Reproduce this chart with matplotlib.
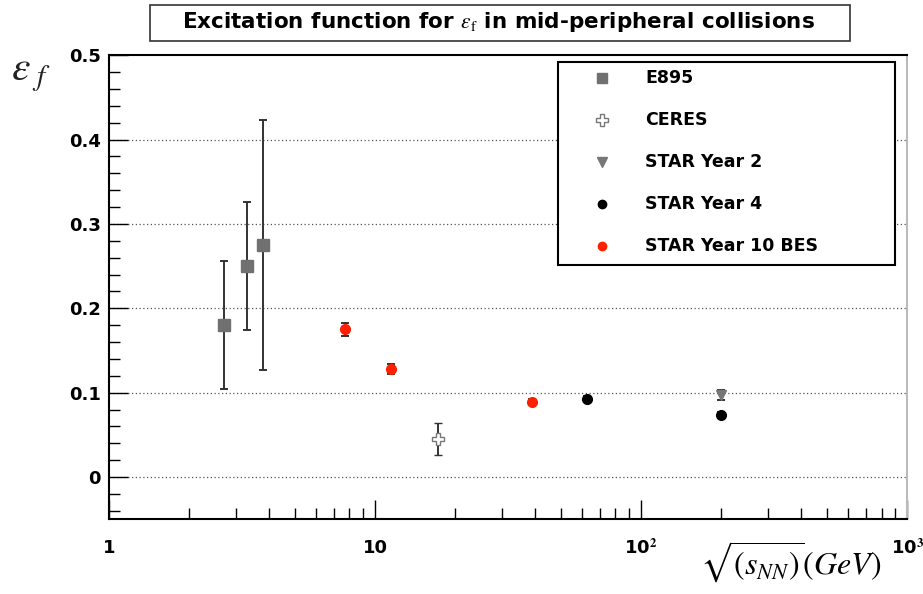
import matplotlib
matplotlib.use("Agg")
import matplotlib.pyplot as plt
from matplotlib.patches import Rectangle
from matplotlib.ticker import FixedLocator, FixedFormatter, MultipleLocator, LogLocator, NullFormatter

plt.rcParams['font.family'] = ['DejaVu Sans']
plt.rcParams['mathtext.fontset'] = 'stix'

# datos
e895_x = [2.7, 3.3, 3.8]
e895_y = [0.180, 0.250, 0.275]
e895_err = [0.076, 0.076, 0.148]

ceres_x = [17.3]
ceres_y = [0.045]
ceres_err = [0.019]

star2_x = [200]
star2_y = [0.097]
star2_err = [0.006]

star4_x = [62.4, 200]
star4_y = [0.093, 0.074]
star4_err = [0.003, 0.003]

bes_x = [7.7, 11.5, 39]
bes_y = [0.175, 0.128, 0.089]
bes_err = [0.008, 0.006, 0.003]

y_ticks = [0, 0.1, 0.2, 0.3, 0.4, 0.5]
y_labels = ['0', '0.1', '0.2', '0.3', '0.4', '0.5']
x_ticks = [1, 10, 100, 1000]
x_labels = ['1', '10', r'10$^{\mathbf{2}}$', r'10$^{\mathbf{3}}$']

fig = plt.figure(figsize=(9.23, 5.94), dpi=100)
ax = fig.add_axes([0.118, 0.126, 0.865, 0.781])

ax.set_xscale('log')
ax.set_xlim(1, 1000)
ax.set_ylim(-0.05, 0.5)

# rejilla punteada horizontal
for yv in y_ticks[:-1]:
    ax.axhline(yv, color='#555555', ls=(0, (1, 2)), lw=0.9, zorder=0)

kw = dict(ls='none', ecolor='#333333', elinewidth=1.4, capsize=3, capthick=1.4)
ax.errorbar(e895_x, e895_y, yerr=e895_err, marker='s', ms=8, color='#707070', **kw)
ax.errorbar(ceres_x, ceres_y, yerr=ceres_err, marker='P', ms=9, mfc='white', mec='#777777', mew=1, **kw)
ax.errorbar(star2_x, star2_y, yerr=star2_err, marker='v', ms=7, color='#777777', **kw)
ax.errorbar(star4_x, star4_y, yerr=star4_err, marker='o', ms=7, color='black', **kw)
ax.errorbar(bes_x, bes_y, yerr=bes_err, marker='o', ms=7, color='#ff2000', **kw)

ax.yaxis.set_major_locator(FixedLocator(y_ticks))
ax.yaxis.set_major_formatter(FixedFormatter(y_labels))
ax.yaxis.set_minor_locator(MultipleLocator(0.02))
ax.xaxis.set_major_locator(FixedLocator(x_ticks))
ax.xaxis.set_major_formatter(FixedFormatter(x_labels))
ax.xaxis.set_minor_locator(LogLocator(base=10, subs=range(2, 10)))
ax.xaxis.set_minor_formatter(NullFormatter())
ax.tick_params(which='both', direction='in', top=False, right=False, width=1)
ax.tick_params(which='major', length=14, labelsize=13)
ax.tick_params(axis='x', which='major', pad=14)
ax.tick_params(axis='y', which='major', pad=6)
ax.tick_params(which='minor', length=8)
for lab in ax.get_xticklabels() + ax.get_yticklabels():
    lab.set_fontweight('bold')

for s in ['left', 'bottom', 'top']:
    ax.spines[s].set_linewidth(1.5)
ax.spines['right'].set_color('#bbbbbb')
ax.spines['right'].set_linewidth(1.5)

# titulo en recuadro
fig.add_artist(Rectangle((150 / 923, 1 - 41 / 594), 700 / 923, 36 / 594, transform=fig.transFigure,
                         fc='white', ec='#333333', lw=1.2))
fig.text(0.54, 1 - 22 / 594, r'Excitation function for $\epsilon_{\rm f}$ in mid-peripheral collisions',
         ha='center', va='center', fontsize=15.5, fontweight='bold')

fig.text(0.012, 0.865, r'$\varepsilon_{\ f}$', fontsize=30, color='#222222')
fig.text(0.955, 0.015, r'$\sqrt{(s_{NN})}(GeV)$', fontsize=23, ha='right', va='bottom')

# leyenda manual
ax.add_patch(Rectangle((0.563, 0.547), 0.422, 0.438, transform=ax.transAxes,
                       fc='white', ec='black', lw=1.5, zorder=5))
handles = [
    dict(marker='s', ms=7, color='#707070'),
    dict(marker='P', ms=8, mfc='white', mec='#777777'),
    dict(marker='v', ms=7, color='#777777'),
    dict(marker='o', ms=6, color='black'),
    dict(marker='o', ms=6, color='#ff2000'),
]
labels = ['E895', 'CERES', 'STAR Year 2', 'STAR Year 4', 'STAR Year 10 BES']
for i, (h, lab) in enumerate(zip(handles, labels)):
    yy = 0.950 - i * 0.0905
    ax.plot([0.618], [yy], ls='none', transform=ax.transAxes, zorder=6, clip_on=False, **h)
    ax.text(0.672, yy, lab, transform=ax.transAxes, va='center', ha='left',
            fontsize=12.5, fontweight='bold', zorder=6)

fig.savefig('out.png', dpi=100)
